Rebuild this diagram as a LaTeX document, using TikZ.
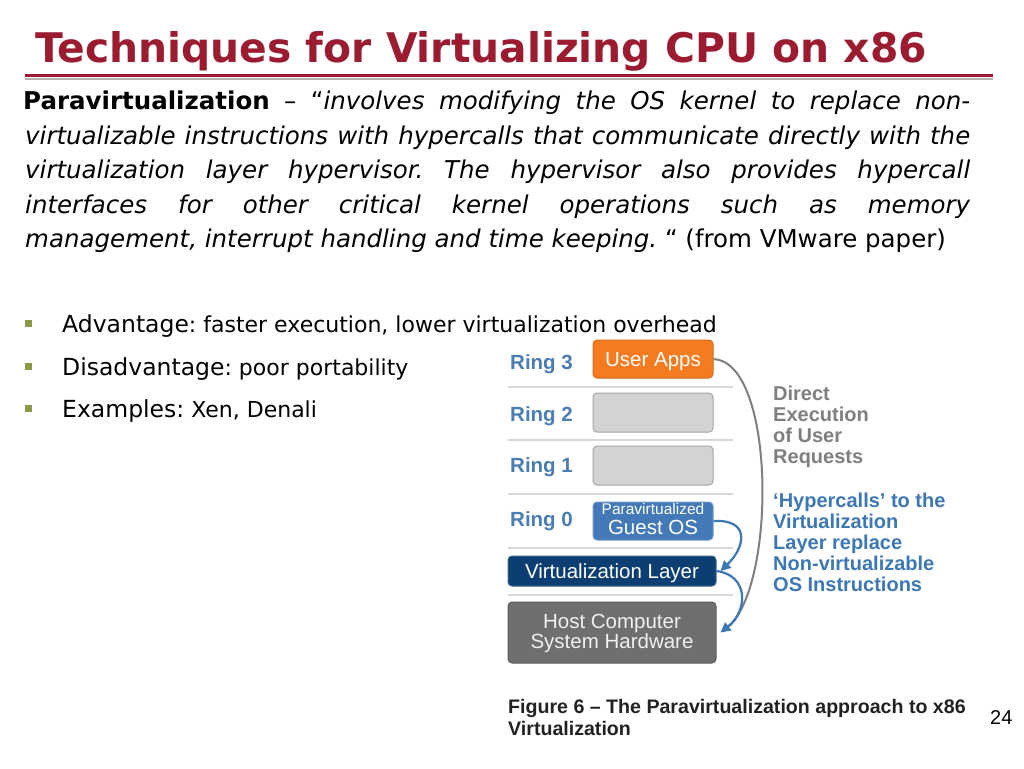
\documentclass[tikz,border=0pt]{standalone}
\usepackage{fontspec}
\setmainfont{DejaVu Sans}
\newfontfamily\arialf{Liberation Sans}
\usetikzlibrary{arrows.meta}
\definecolor{titlered}{HTML}{9B1B30}
\definecolor{bulletgreen}{HTML}{8C9A48}
\definecolor{ringblue}{HTML}{4A7DB2}
\definecolor{arrowblue}{HTML}{3D78B5}
\definecolor{guestblue}{HTML}{4279B6}
\definecolor{vlnavy}{HTML}{0C3E72}
\definecolor{appsorange}{HTML}{F47B20}
\definecolor{ringgray}{HTML}{D3D3D3}
\definecolor{ringedge}{HTML}{A5A5A5}
\definecolor{hwgray}{HTML}{6F6F6F}
\definecolor{sepgray}{HTML}{D8D8D8}
\definecolor{lblgray}{HTML}{7F7F7F}
\definecolor{capblack}{HTML}{222222}
\frenchspacing
\begin{document}
\begin{tikzpicture}[x=1pt,y=-1pt,
  box/.style={draw, rounded corners=4pt, line width=1pt, inner sep=0pt},
  ringlbl/.style={anchor=base west, inner sep=0pt, text=ringblue, font=\arialf\bfseries\fontsize{20.5}{24}\selectfont},
  boxtxt/.style={anchor=base, inner sep=0pt, text=white, font=\arialf\fontsize{20.5}{24}\selectfont},
  bodytext/.style={anchor=base west, inner sep=0pt, font=\fontsize{24.5}{30}\selectfont},
  bulletsq/.style={fill=bulletgreen, minimum size=7pt, inner sep=0pt},
  bullettxt/.style={anchor=base west, inner sep=0pt},
  sideg/.style={anchor=base west, inner sep=0pt, text=lblgray, font=\arialf\bfseries\fontsize{20}{22}\selectfont},
  sideb/.style={sideg, text=arrowblue},
  sepline/.style={draw=sepgray, line width=1.5pt},
  barrow/.style={draw=arrowblue, line width=2.2pt, -{Triangle[length=10pt,width=10pt]}},
  captxt/.style={anchor=base west, inner sep=0pt, text=capblack, font=\arialf\bfseries\fontsize{19.6}{23}\selectfont},
]
\useasboundingbox (0,0) rectangle (1024,768);
\fill[white] (0,0) rectangle (1024,768);

% title
\node[anchor=base west, inner sep=0pt, text=titlered, font=\fontsize{40.8}{48}\selectfont\bfseries] (title) at (35,63) {Techniques for Virtualizing CPU on x86};
\draw[black!30, line width=2pt] (25,78.5) -- (993,78.5);
\draw[titlered, line width=3pt] (25,75.5) -- (993,75.5);

% body
\node[bodytext] (l1) at (23,109.5) {\makebox[947pt][s]{\textbf{Paravirtualization} – “\textit{involves modifying the OS kernel to replace non-}}};
\node[bodytext] (l2) at (25,144) {\makebox[945pt][s]{\itshape virtualizable instructions with hypercalls that communicate directly with the}};
\node[bodytext] (l3) at (25,178.5) {\makebox[945pt][s]{\itshape virtualization layer hypervisor. The hypervisor also provides hypercall}};
\node[bodytext] (l4) at (25,213) {\makebox[945pt][s]{\itshape interfaces for other critical kernel operations such as memory}};
\node[bodytext] (l5) at (25,247.5) {\textit{management, interrupt handling and time keeping.} “ (from VMware paper)};

% bullets
\node[bulletsq] (b1) at (28.5,323.5) {};
\node[bulletsq] (b2) at (28.5,366) {};
\node[bulletsq] (b3) at (28.5,408.5) {};
\node[bullettxt] (t1) at (62,332.5) {{\fontsize{23.5}{28}\selectfont Advantage}{\fontsize{22}{26}\selectfont : faster execution, lower virtualization overhead}};
\node[bullettxt] (t2) at (62,375) {{\fontsize{23.5}{28}\selectfont Disadvantage}{\fontsize{22}{26}\selectfont : poor portability}};
\node[bullettxt] (t3) at (62,417.5) {{\fontsize{23.5}{28}\selectfont Examples:}{\fontsize{22}{26}\selectfont{} Xen, Denali}};

% separators
\draw[sepline] (508,387) -- (733,387);
\draw[sepline] (508,440) -- (733,440);
\draw[sepline] (508,494) -- (733,494);
\draw[sepline] (508,548) -- (733,548);
\draw[sepline] (508,595) -- (733,595);

% ring labels
\node[ringlbl] (r3) at (510,369.3) {Ring 3};
\node[ringlbl] (r2) at (510,421.5) {Ring 2};
\node[ringlbl] (r1) at (510,472.8) {Ring 1};
\node[ringlbl] (r0) at (510,526.7) {Ring 0};

% boxes
\node[box, fill=appsorange, draw=appsorange!88!black, minimum width=120pt, minimum height=38pt] (UA) at (653,359) {};
\node[box, fill=ringgray, draw=ringedge, minimum width=120pt, minimum height=39pt] (R2) at (653,412.5) {};
\node[box, fill=ringgray, draw=ringedge, minimum width=120pt, minimum height=39pt] (R1) at (653,465.5) {};
\node[box, fill=guestblue, draw=guestblue!75!white, minimum width=120pt, minimum height=38pt] (GOS) at (653,521) {};
\node[box, fill=vlnavy, draw=vlnavy!80!white, minimum width=208pt, minimum height=30pt] (VL) at (612,571) {};
\node[box, fill=hwgray, draw=hwgray!85!black, minimum width=208pt, minimum height=61pt] (HW) at (612,632.5) {};

\node[boxtxt] (UAt) at (653,366.5) {User Apps};
\node[boxtxt, font=\arialf\fontsize{15.5}{18}\selectfont] (GOSa) at (653,514.5) {Paravirtualized};
\node[boxtxt] (GOSb) at (653,534.5) {Guest OS};
\node[boxtxt] (VLt) at (612,578) {Virtualization Layer};
\node[boxtxt, text=black!6] (HWa) at (612,628) {Host Computer};
\node[boxtxt, text=black!6] (HWb) at (612,648.5) {System Hardware};

% connectors
\draw[draw=lblgray, line width=2pt] (UA.east) .. controls +(62,3) and +(48,-42) .. ([xshift=12pt,yshift=6pt]HW.east);
\draw[barrow] (GOS.east) .. controls +(37,-2) and +(25,-24) .. ([xshift=4pt]VL.east);
\draw[barrow] (VL.east) .. controls +(32,4) and +(28,-22) .. ([xshift=4pt]HW.east);

% side labels
\node[sideg] (g1) at (773,400.7) {Direct};
\node[sideg] (g2) at (773,421.7) {Execution};
\node[sideg] (g3) at (773,442.7) {of User};
\node[sideg] (g4) at (773,463.5) {Requests};
\node[sideb] (h1) at (773,507.3) {‘Hypercalls’ to the};
\node[sideb] (h2) at (773,528.4) {Virtualization};
\node[sideb] (h3) at (773,549.5) {Layer replace};
\node[sideb] (h4) at (773,570.6) {Non-virtualizable};
\node[sideb] (h5) at (773,591.7) {OS Instructions};

% caption
\node[captxt] (cap1) at (508,713.3) {Figure 6 – The Paravirtualization approach to x86};
\node[captxt] (cap2) at (508,735) {Virtualization};
\node[anchor=base west, inner sep=0pt, font=\arialf\fontsize{20}{24}\selectfont] (pg) at (990,724) {24};
\end{tikzpicture}
\end{document}
